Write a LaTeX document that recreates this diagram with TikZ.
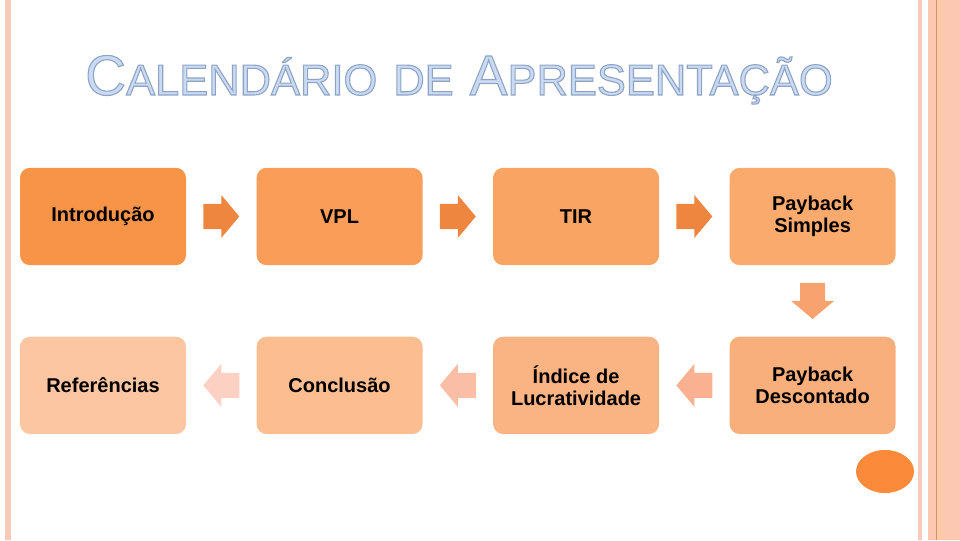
\documentclass[tikz,border=0pt]{standalone}
\usepackage{fontspec}
\setmainfont{Liberation Sans}
\usepackage{xcolor}
\usepackage{tikz}
\usetikzlibrary{positioning, calc}

\definecolor{etapaA}{HTML}{F79448}
\definecolor{etapaB}{HTML}{F99D58}
\definecolor{etapaC}{HTML}{FAA463}
\definecolor{etapaD}{HTML}{FBAA6E}
\definecolor{etapaE}{HTML}{F9AF7C}
\definecolor{etapaF}{HTML}{FAB483}
\definecolor{etapaG}{HTML}{FCBD91}
\definecolor{etapaH}{HTML}{FCC6A2}
\definecolor{setaA}{HTML}{EF863F}
\definecolor{setaB}{HTML}{F7A26F}
\definecolor{setaC}{HTML}{F9B191}
\definecolor{setaD}{HTML}{FABDA5}
\definecolor{setaE}{HTML}{FCD0C2}
\definecolor{bordaA}{HTML}{F9C9B9}
\definecolor{bordaB}{HTML}{FCC8B1}
\definecolor{bordaC}{HTML}{FDCBA6}
\definecolor{bordaD}{HTML}{D98F6C}
\definecolor{tituloCor}{HTML}{C9DAF2}
\definecolor{bolaCor}{HTML}{FB8B3B}

\newcommand{\capgrande}[1]{{\fontsize{42.5}{42.5}\selectfont #1}}
\newcommand{\cappequena}[1]{{\fontsize{32.6}{32.6}\selectfont #1}}

\begin{document}
\begin{tikzpicture}[
  x=0.75pt, y=0.75pt,
  node distance = 53.25pt and 52.5pt,
  etapa/.style = {rounded corners=7.5pt, minimum width=124.5pt,
                  minimum height=73pt, align=center, inner sep=2pt,
                  font=\bfseries\fontsize{15}{16.5}\selectfont, fill=#1},
  seta/.pic    = {\path[pic actions] (-18,-12.5) -- (0,-12.5) -- (0,-21.5)
                  -- (18,0) -- (0,21.5) -- (0,12.5) -- (-18,12.5) -- cycle;}
]
\useasboundingbox (0,0) rectangle (960,540);

% ── Borders ───────────────────────────────────────────────────────────────────
\fill[bordaA] (5,0) rectangle (11,540);
\fill[bordaA] (918,0) rectangle (922,540);
\fill[bordaB] (928,0) rectangle (960,540);
\fill[bordaC] (937,0) rectangle (943,540);
\fill[bordaD] (935.6,0) rectangle (936.8,540);

% ── Title ─────────────────────────────────────────────────────────────────────
\node[anchor=base, inner sep=0] (titulo) at (459,445)
  {\color{tituloCor}\special{pdf:literal direct 0.55 0.64 0.77 RG 0.8 w 2 Tr}%
   \capgrande{C}\cappequena{ALENDÁRIO}\hspace{12pt}\cappequena{DE}\hspace{12pt}%
   \capgrande{A}\cappequena{PRESENTAÇÃO}%
   \special{pdf:literal direct 0 Tr}};

% ── Steps ─────────────────────────────────────────────────────────────────────
\node[etapa=etapaA] at (103,323.5) (intro)   {Introdução};
\node[etapa=etapaB, right=of intro]  (vpl)     {VPL};
\node[etapa=etapaC, right=of vpl]    (tir)     {TIR};
\node[etapa=etapaD, right=of tir]    (paysimp) {Payback\\Simples};
\node[etapa=etapaE, below=of paysimp] (paydesc) {Payback\\Descontado};
\node[etapa=etapaF, left=of paydesc] (indice)  {Índice de\\Lucratividade};
\node[etapa=etapaG, left=of indice]  (concl)   {Conclusão};
\node[etapa=etapaH, left=of concl]   (refs)    {Referências};

% ── Block arrows ──────────────────────────────────────────────────────────────
\foreach \s/\t in {intro/vpl, vpl/tir, tir/paysimp}
  \pic[fill=setaA] at ($(\s.east)!0.5!(\t.west)$) {seta};
\pic[fill=setaB, rotate=-90] at ($(paysimp.south)!0.5!(paydesc.north)$) {seta};
\pic[fill=setaC, rotate=180] at ($(paydesc.west)!0.5!(indice.east)$) {seta};
\pic[fill=setaD, rotate=180] at ($(indice.west)!0.5!(concl.east)$) {seta};
\pic[fill=setaE, rotate=180] at ($(concl.west)!0.5!(refs.east)$) {seta};

% ── Corner mark ───────────────────────────────────────────────────────────────
\fill[bolaCor] (885,68.5) ellipse [x radius=29, y radius=21.5];

\end{tikzpicture}
\end{document}
